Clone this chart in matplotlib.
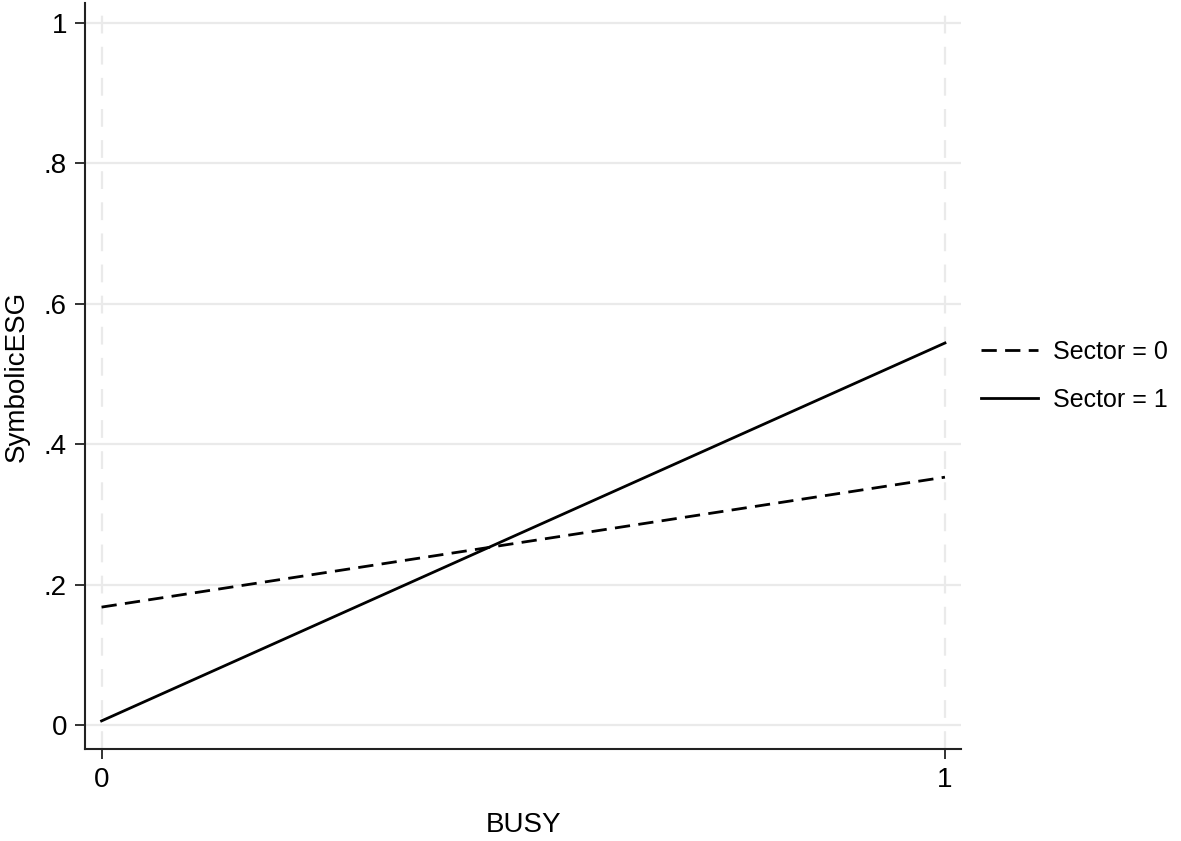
import matplotlib
matplotlib.use('Agg')
import matplotlib.pyplot as plt

# Predicted margins of SymbolicESG by BUSY and Sector
busy = [0, 1]
sector0 = [0.168, 0.353]
sector1 = [0.006, 0.544]

yticks = [0, 0.2, 0.4, 0.6, 0.8, 1.0]
ytick_labels = ['0', '.2', '.4', '.6', '.8', '1']
xticks = [0, 1]
xtick_labels = ['0', '1']

plt.rcParams['font.family'] = ['Liberation Sans', 'DejaVu Sans']

fig = plt.figure(figsize=(11.81, 8.41), dpi=100, facecolor='white')
ax = fig.add_axes([0.072, 0.1094, 0.7417, 0.887])

GRID = '#eaeaea'
for y in yticks:
    ax.axhline(y, color=GRID, linewidth=1.6, zorder=0)
for x in xticks:
    ax.axvline(x, color=GRID, linewidth=1.6, linestyle=(0, (8, 6)), zorder=0)

ax.plot(busy, sector0, color='black', linewidth=2.0, linestyle=(0, (5.5, 3)),
        label='Sector = 0', zorder=3)
ax.plot(busy, sector1, color='black', linewidth=2.0, linestyle='-',
        label='Sector = 1', zorder=3)

ax.set_xlim(-0.0196, 1.019)
ax.set_ylim(-0.034, 1.028)

ax.set_xticks(xticks)
ax.set_xticklabels(xtick_labels)
ax.set_yticks(yticks)
ax.set_yticklabels(ytick_labels)

for side in ('top', 'right'):
    ax.spines[side].set_visible(False)
for side in ('left', 'bottom'):
    ax.spines[side].set_linewidth(1.5)
    ax.spines[side].set_color('#222222')

ax.tick_params(axis='both', direction='out', length=7, width=1.3,
               labelsize=20, color='#222222', pad=6)

ax.set_xlabel('BUSY', fontsize=20, labelpad=14)
ax.set_ylabel('SymbolicESG', fontsize=20, labelpad=10)

leg = ax.legend(loc='center left', bbox_to_anchor=(1.0, 0.5), frameon=False,
                fontsize=18, handlelength=2.3, handletextpad=0.6,
                labelspacing=0.95, borderaxespad=0.4)

fig.savefig('out.png', dpi=100, facecolor='white')
